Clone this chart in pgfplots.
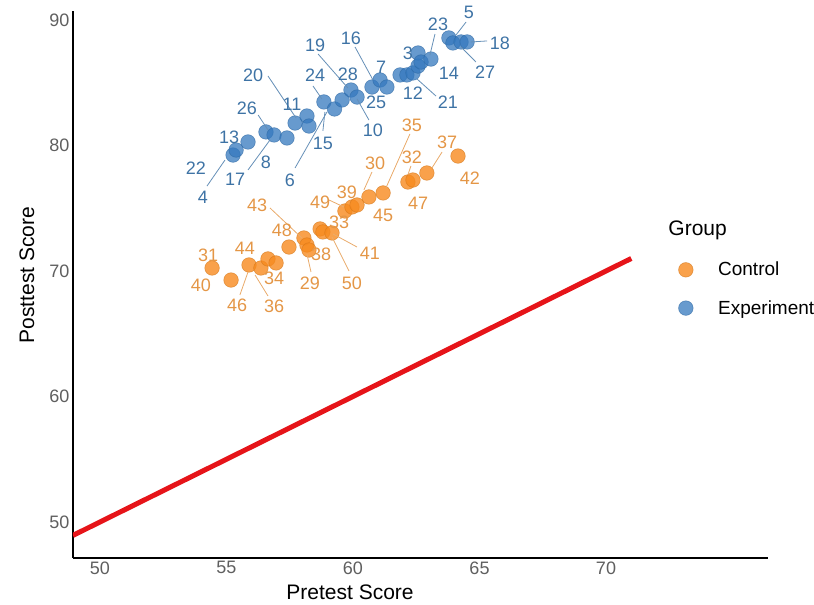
\documentclass[border=0pt]{standalone}
\usepackage{pgfplots}
\pgfplotsset{compat=1.18}
\usepackage{fontspec}
\setmainfont{Liberation Sans}
\definecolor{bluept}{RGB}{52,120,190}
\definecolor{orangept}{RGB}{247,138,30}
\definecolor{bluetxt}{RGB}{62,115,165}
\definecolor{orangetxt}{RGB}{228,150,70}
\definecolor{ticktxt}{RGB}{95,95,95}
\definecolor{redline}{RGB}{230,20,25}
\pgfplotstableread{
x y
55.26 79.24
55.38 79.64
55.85 80.28
56.56 81.08
56.88 80.84
57.39 80.60
57.71 81.79
58.18 82.35
58.26 81.55
58.85 83.47
59.27 82.91
59.57 83.63
59.92 84.42
60.16 83.86
60.75 84.66
61.07 85.22
61.34 84.66
61.86 85.62
62.13 85.62
62.37 85.78
62.57 86.33
62.57 87.37
62.69 86.65
63.08 86.89
63.79 88.57
63.95 88.17
64.27 88.25
64.51 88.25
}\experiment
\pgfplotstableread{
x y
54.43 70.24
55.18 69.28
55.89 70.48
56.36 70.24
56.64 70.96
56.96 70.64
57.47 71.91
58.06 72.63
58.18 72.07
58.26 71.67
58.70 73.35
58.81 73.11
59.17 73.03
59.68 74.78
59.96 75.10
60.16 75.26
60.63 75.90
61.19 76.22
62.17 77.09
62.37 77.25
62.92 77.81
64.15 79.16
}\control
\begin{document}
\begin{tikzpicture}
\useasboundingbox (-73pt,-47pt) rectangle (741pt,558pt);
\begin{axis}[
 at={(0pt,0pt)}, anchor=south west,
 scale only axis, width=695pt, height=547pt,
 xmin=48.933, xmax=76.403, ymin=47.131, ymax=90.717,
 clip mode=individual,
 axis x line*=bottom, axis y line*=left,
 axis line style={line width=2.5pt, black, -},
 xtick={50,55,...,70}, ytick={50,60,...,90},
 major tick length=0pt,
 tick label style={font=\fontsize{18}{21}\selectfont, text=ticktxt},
 /pgf/number format/assume math mode=true,
 xlabel={Pretest Score}, ylabel={Posttest Score},
 label style={font=\fontsize{21}{24}\selectfont},
 x label style={at={(axis description cs:0.3986,-0.0622)}, anchor=center},
 y label style={at={(axis description cs:-0.0662,0.517)}, anchor=center},
 legend style={at={(axis description cs:0.871,0.5448)}, anchor=north west,
   draw=none, fill=none, font=\fontsize{19}{22}\selectfont, row sep=19pt,
   inner xsep=0pt, inner ysep=0pt,
   /tikz/every odd column/.append style={column sep=23pt}},
 legend cell align=left,
]
\addplot[redline, line width=5pt, forget plot] coordinates {(48.93,48.93) (71.0,71.0)};
\addplot[only marks, mark=*, mark size=7.3pt, mark options={fill=orangept, draw=orangept!85!black, fill opacity=0.8, draw opacity=0.6, line width=0.6pt}] table {\control};
\addlegendentry{Control}
\addplot[only marks, mark=*, mark size=7.3pt, mark options={fill=bluept, draw=bluept!85!black, fill opacity=0.75, draw opacity=0.6, line width=0.6pt}] table {\experiment};
\addlegendentry{Experiment}

\node[anchor=west, font=\fontsize{21}{24}\selectfont] at (axis cs:72.33,73.27) {Group};

% blue labels
\begin{scope}[every node/.style={font=\fontsize{18}{21}\selectfont, text=bluetxt}]
\draw[bluetxt!80, line width=0.8pt] (axis cs:54.23,76.77) -- (axis cs:54.94,78.84);
\draw[bluetxt!80, line width=0.8pt] (axis cs:55.85,78.05) -- (axis cs:56.72,80.44);
\draw[bluetxt!80, line width=0.8pt] (axis cs:56.25,82.43) -- (axis cs:56.64,81.24);
\draw[bluetxt!80, line width=0.8pt] (axis cs:56.64,85.54) -- (axis cs:57.75,82.19);
\draw[bluetxt!80, line width=0.8pt] (axis cs:57.71,78.21) -- (axis cs:58.97,82.67);
\draw[bluetxt!80, line width=0.8pt] (axis cs:58.81,81.16) -- (axis cs:58.89,82.67);
\draw[bluetxt!80, line width=0.8pt] (axis cs:58.42,84.74) -- (axis cs:58.77,83.71);
\draw[bluetxt!80, line width=0.8pt] (axis cs:58.62,87.29) -- (axis cs:59.80,84.58);
\draw[bluetxt!80, line width=0.8pt] (axis cs:60.63,82.03) -- (axis cs:60.16,83.71);
\draw[bluetxt!80, line width=0.8pt] (axis cs:60.08,87.85) -- (axis cs:60.79,85.22);
\draw[bluetxt!80, line width=0.8pt] (axis cs:63.24,88.88) -- (axis cs:63.04,87.21);
\draw[bluetxt!80, line width=0.8pt] (axis cs:64.47,89.84) -- (axis cs:64.07,88.80);
\draw[bluetxt!80, line width=0.8pt] (axis cs:65.30,88.33) -- (axis cs:64.66,88.25);
\draw[bluetxt!80, line width=0.8pt] (axis cs:64.86,86.65) -- (axis cs:64.27,87.85);
\draw[bluetxt!80, line width=0.8pt] (axis cs:63.28,83.94) -- (axis cs:62.53,85.30);
\node at (axis cs:53.79,78.21) {22};
\node at (axis cs:54.07,75.90) {4};
\node at (axis cs:55.10,80.68) {13};
\node at (axis cs:55.34,77.33) {17};
\node at (axis cs:56.56,78.69) {8};
\node at (axis cs:55.81,82.99) {26};
\node at (axis cs:56.05,85.62) {20};
\node at (axis cs:57.59,83.31) {11};
\node at (axis cs:57.51,77.25) {6};
\node at (axis cs:58.81,80.20) {15};
\node at (axis cs:58.50,85.62) {24};
\node at (axis cs:58.50,88.01) {19};
\node at (axis cs:59.80,85.70) {28};
\node at (axis cs:60.79,81.24) {10};
\node at (axis cs:60.91,83.47) {25};
\node at (axis cs:59.92,88.57) {16};
\node at (axis cs:61.11,86.25) {7};
\node at (axis cs:62.17,87.37) {3};
\node at (axis cs:63.36,89.68) {23};
\node at (axis cs:64.58,90.64) {5};
\node at (axis cs:65.81,88.17) {18};
\node at (axis cs:65.22,85.86) {27};
\node at (axis cs:63.79,85.78) {14};
\node at (axis cs:62.37,84.18) {12};
\node at (axis cs:63.75,83.47) {21};
\end{scope}

% orange labels
\begin{scope}[every node/.style={font=\fontsize{18}{21}\selectfont, text=orangetxt}]
\draw[orangetxt!80, line width=0.8pt] (axis cs:55.53,68.09) -- (axis cs:55.85,69.92);
\draw[orangetxt!80, line width=0.8pt] (axis cs:56.64,68.01) -- (axis cs:56.13,69.68);
\draw[orangetxt!80, line width=0.8pt] (axis cs:56.72,75.02) -- (axis cs:57.98,72.63);
\draw[orangetxt!80, line width=0.8pt] (axis cs:58.34,69.92) -- (axis cs:58.18,71.35);
\draw[orangetxt!80, line width=0.8pt] (axis cs:59.84,70.00) -- (axis cs:59.17,72.71);
\draw[orangetxt!80, line width=0.8pt] (axis cs:60.16,71.91) -- (axis cs:59.21,72.95);
\draw[orangetxt!80, line width=0.8pt] (axis cs:59.05,75.66) -- (axis cs:59.64,75.10);
\draw[orangetxt!80, line width=0.8pt] (axis cs:60.75,77.89) -- (axis cs:60.43,76.45);
\draw[orangetxt!80, line width=0.8pt] (axis cs:62.25,80.92) -- (axis cs:61.30,76.61);
\draw[orangetxt!80, line width=0.8pt] (axis cs:62.29,78.37) -- (axis cs:62.17,77.65);
\draw[orangetxt!80, line width=0.8pt] (axis cs:63.52,79.48) -- (axis cs:63.12,78.21);
\node at (axis cs:54.27,71.27) {31};
\node at (axis cs:53.99,68.88) {40};
\node at (axis cs:55.73,71.83) {44};
\node at (axis cs:55.42,67.29) {46};
\node at (axis cs:56.88,67.21) {36};
\node at (axis cs:56.88,69.44) {34};
\node at (axis cs:56.21,75.26) {43};
\node at (axis cs:57.19,73.27) {48};
\node at (axis cs:58.74,71.35) {38};
\node at (axis cs:58.30,69.04) {29};
\node at (axis cs:59.96,69.04) {50};
\node at (axis cs:60.67,71.43) {41};
\node at (axis cs:59.45,73.90) {33};
\node at (axis cs:58.70,75.50) {49};
\node at (axis cs:59.76,76.29) {39};
\node at (axis cs:60.87,78.61) {30};
\node at (axis cs:62.33,81.63) {35};
\node at (axis cs:62.33,79.08) {32};
\node at (axis cs:61.19,74.46) {45};
\node at (axis cs:62.57,75.42) {47};
\node at (axis cs:63.72,80.28) {37};
\node at (axis cs:64.62,77.41) {42};
\end{scope}
\end{axis}
\end{tikzpicture}
\end{document}
